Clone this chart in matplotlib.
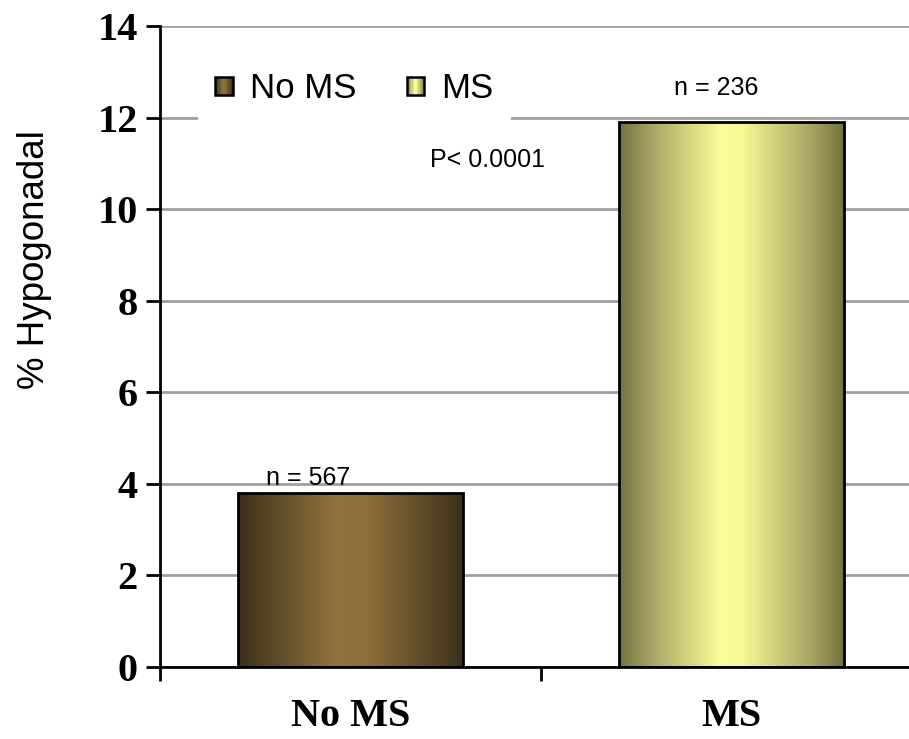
import matplotlib.pyplot as plt
import numpy as np
from matplotlib.colors import LinearSegmentedColormap
from matplotlib.legend_handler import HandlerBase
from matplotlib.patches import Rectangle

groups = ['No MS', 'MS']
pct_hypogonadal = [3.8, 11.9]
n_labels = ['n = 567', 'n = 236']
n_label_pos = [(-0.11, 4.13), (0.96, 12.64)]
p_text = 'P< 0.0001'
p_pos = (0.36, 11.07)
yticks = [0, 2, 4, 6, 8, 10, 12, 14]

# cylinder-like shading across each bar: dark edges, light middle
brown = LinearSegmentedColormap.from_list(
    'brown', [(0, '#3c301a'), (0.15, '#5a4727'), (0.42, '#8f723c'),
              (0.58, '#8c6f3a'), (0.85, '#5a4727'), (1, '#3c301a')])
yellow = LinearSegmentedColormap.from_list(
    'yellow', [(0, '#74723f'), (0.15, '#a9a766'), (0.45, '#fcfc98'),
               (0.55, '#f8f895'), (0.85, '#a9a766'), (1, '#74723f')])
cmaps = [brown, yellow]


class GradientHandler(HandlerBase):
    def __init__(self, cmap):
        super().__init__()
        self.cmap = cmap

    def create_artists(self, legend, orig_handle, xdescent, ydescent,
                       width, height, fontsize, trans):
        side = min(width, height)
        x0 = -xdescent + (width - side) / 2
        y0 = -ydescent + (height - side) / 2
        artists = []
        nstripes = 12
        for i in range(nstripes):
            c = self.cmap((i + 0.5) / nstripes)
            r = Rectangle((x0 + i * side / nstripes, y0), side / nstripes, side,
                          facecolor=c, edgecolor='none', transform=trans)
            artists.append(r)
        artists.append(Rectangle((x0, y0), side, side, facecolor='none',
                                 edgecolor='black', lw=1.8, transform=trans))
        return artists


fig = plt.figure(figsize=(9.09, 7.39), dpi=100)
ax = fig.add_axes([0.176, 0.0974, 0.838, 0.8674])

x = np.arange(len(groups))
width = 0.59
gradient = np.linspace(0, 1, 256).reshape(1, -1)

bars = ax.bar(x, pct_hypogonadal, width, facecolor='none',
              edgecolor='black', linewidth=2, zorder=4)
for bar, cmap in zip(bars, cmaps):
    x0 = bar.get_x()
    ax.imshow(gradient, cmap=cmap, aspect='auto', zorder=3,
              extent=(x0, x0 + bar.get_width(), 0, bar.get_height()))

ax.set_xlim(-0.5, 1.5)
ax.set_ylim(0, 14)
ax.set_yticks(yticks)
ax.set_xticks([-0.5, 0.5, 1.5])
ax.set_xticklabels([])
ax.set_xticks(x, minor=True)
ax.set_xticklabels(groups, minor=True)
ax.tick_params(axis='x', which='minor', length=0, pad=22)
ax.tick_params(axis='x', which='major', length=10, width=2, direction='out')
ax.tick_params(axis='y', length=10, width=2, direction='out', pad=6)

for lbl in ax.get_xticklabels(minor=True) + ax.get_yticklabels():
    lbl.set_fontfamily('Liberation Serif')
    lbl.set_fontweight('bold')
    lbl.set_fontsize(29)

ax.grid(axis='y', color='#a0a0a0', linewidth=2, zorder=0)
ax.set_axisbelow(True)
for side in ['top', 'right']:
    ax.spines[side].set_visible(False)
for side in ['left', 'bottom']:
    ax.spines[side].set_linewidth(2)
    ax.spines[side].set_zorder(5)

ax.set_ylabel('% Hypogonadal', fontfamily='Liberation Sans', fontsize=26.5)
ax.yaxis.set_label_coords(-0.142, 0.635)

for txt, (tx, ty) in zip(n_labels, n_label_pos):
    ax.text(tx, ty, txt, ha='center', va='center',
            fontfamily='Liberation Sans', fontsize=18, zorder=6)
ax.text(p_pos[0], p_pos[1], p_text, ha='center', va='center',
        fontfamily='Liberation Sans', fontsize=18, zorder=6)

handles = [Rectangle((0, 0), 1, 1) for _ in groups]
leg = ax.legend(handles, groups, loc='upper left',
                bbox_to_anchor=(0.027, 0.982), ncol=2, frameon=True,
                prop={'family': 'Liberation Sans', 'size': 25},
                handler_map={h: GradientHandler(c) for h, c in zip(handles, cmaps)},
                handlelength=0.5, handleheight=0.5, handletextpad=0.5,
                columnspacing=1.45, borderpad=0.5, fancybox=False)
leg.get_frame().set_edgecolor('none')
leg.get_frame().set_facecolor('white')
leg.get_frame().set_alpha(1)
leg.set_zorder(2)

fig.savefig('out.png', dpi=100)
